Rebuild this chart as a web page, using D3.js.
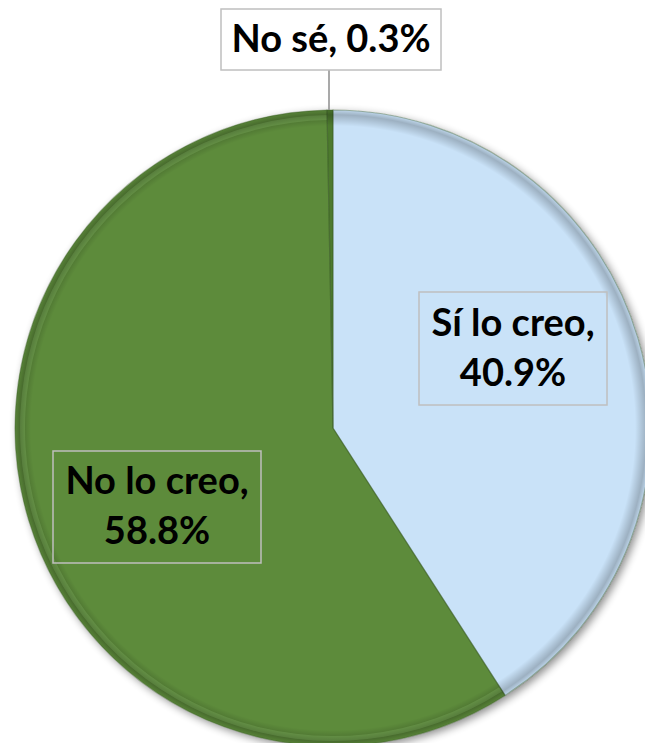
<!DOCTYPE html>
<html>
<head>
<meta charset="utf-8">
<script src="https://cdn.jsdelivr.net/npm/d3@7"></script>
<style>
  body { margin: 0; background: #fff; }
  svg { display: block; }
</style>
</head>
<body>
<script>
// Data
const categories = ["Sí lo creo", "No lo creo", "No sé"];
const values = [40.9, 58.8, 0.3];
const colors = ["#c9e2f8", "#5d8b3b", "#4e7a2e"];

const width = 645, height = 743;
const cx = 333, cy = 428, radius = 318;

const svg = d3.select("body")
  .append("svg")
  .attr("width", width)
  .attr("height", height);

const defs = svg.append("defs");
const shadow = defs.append("filter")
  .attr("id", "shadow")
  .attr("x", "-10%").attr("y", "-10%")
  .attr("width", "120%").attr("height", "120%");
shadow.append("feGaussianBlur").attr("in", "SourceAlpha").attr("stdDeviation", 4);
shadow.append("feOffset").attr("dx", 3).attr("dy", 3).attr("result", "blur");
shadow.append("feComponentTransfer").append("feFuncA").attr("type", "linear").attr("slope", 0.45);
const merge = shadow.append("feMerge");
merge.append("feMergeNode");
merge.append("feMergeNode").attr("in", "SourceGraphic");

// edge shading for the bevel look
const grad = defs.append("radialGradient")
  .attr("id", "edge")
  .attr("gradientUnits", "userSpaceOnUse")
  .attr("cx", cx).attr("cy", cy).attr("r", radius);
grad.append("stop").attr("offset", "0.95").attr("stop-color", "#000").attr("stop-opacity", 0);
grad.append("stop").attr("offset", "0.985").attr("stop-color", "#000").attr("stop-opacity", 0.22);
grad.append("stop").attr("offset", "1").attr("stop-color", "#000").attr("stop-opacity", 0.06);

const pie = d3.pie().sort(null).value(d => d)(values);
const arc = d3.arc().innerRadius(0).outerRadius(radius);

const g = svg.append("g")
  .attr("transform", "translate(" + cx + "," + cy + ")");

g.append("g").attr("filter", "url(#shadow)")
  .selectAll("path")
  .data(pie)
  .enter()
  .append("path")
  .attr("d", arc)
  .attr("fill", (d, i) => colors[i]);

// subtle highlight along the rim of the green slice
g.append("path")
  .attr("d", d3.arc().innerRadius(radius - 10).outerRadius(radius - 5)(pie[1]))
  .attr("fill", "#8cc06a")
  .attr("opacity", 0.4);

svg.append("circle")
  .attr("cx", cx).attr("cy", cy).attr("r", radius)
  .attr("fill", "url(#edge)")
  .attr("pointer-events", "none");

// slice borders
g.selectAll("path.sep")
  .data(pie)
  .enter()
  .append("path")
  .attr("class", "sep")
  .attr("d", arc)
  .attr("fill", "none")
  .attr("stroke", "#3d5e27")
  .attr("stroke-opacity", 0.4)
  .attr("stroke-width", 1.2);

// Labels
const labelBoxes = [
  { x: 419, y: 292, w: 188, h: 113, fill: "none" },
  { x: 53, y: 451, w: 208, h: 112, fill: "none" },
  { x: 221, y: 9, w: 220, h: 61, fill: "#fff" }
];

const labelLines = categories.map((c, i) => {
  const p = values[i].toFixed(1) + "%";
  return i === 2 ? [c + ", " + p] : [c + ",", p];
});

// leader line for the small slice
const mid = (pie[2].startAngle + pie[2].endAngle) / 2;
svg.append("line")
  .attr("x1", cx + radius * Math.sin(mid) - 1)
  .attr("y1", cy - radius * Math.cos(mid))
  .attr("x2", cx + radius * Math.sin(mid) - 1)
  .attr("y2", labelBoxes[2].y + labelBoxes[2].h)
  .attr("stroke", "#8c8c8c")
  .attr("stroke-width", 1.5);

const labels = svg.selectAll("g.label")
  .data(labelBoxes)
  .enter()
  .append("g")
  .attr("class", "label");

labels.append("rect")
  .attr("x", d => d.x).attr("y", d => d.y)
  .attr("width", d => d.w).attr("height", d => d.h)
  .attr("fill", d => d.fill)
  .attr("stroke", "#bfbfbf")
  .attr("stroke-width", 1.5);

labels.each(function(d, i) {
  const lines = labelLines[i];
  const t = d3.select(this).append("text")
    .attr("text-anchor", "middle")
    .attr("font-family", "Lato, 'Open Sans', sans-serif")
    .attr("font-weight", "bold")
    .attr("font-size", 38)
    .attr("fill", "#000");
  const lh = 50;
  const y0 = d.y + d.h / 2 - (lines.length - 1) * lh / 2 + 12;
  lines.forEach((s, k) => {
    t.append("tspan")
      .attr("x", d.x + d.w / 2)
      .attr("y", y0 + k * lh)
      .text(s);
  });
});
</script>
</body>
</html>
